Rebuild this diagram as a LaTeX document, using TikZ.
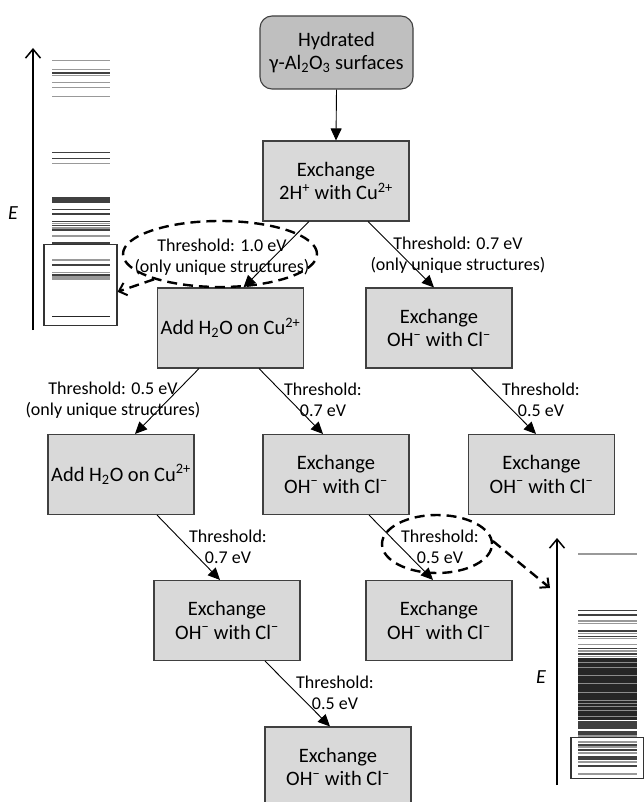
\documentclass[tikz,border=0pt]{standalone}
\usepackage{fontspec}
\setmainfont{Carlito}
\usetikzlibrary{arrows.meta,shapes.geometric,calc}
\definecolor{boxgray}{HTML}{D9D9D9}
\definecolor{topgray}{HTML}{BFBFBF}
\definecolor{edgegray}{HTML}{404040}
\newcommand{\mns}{\textsuperscript{\char"2212}}
\begin{document}
\begin{tikzpicture}[x=1pt,y=-1pt,
  stepbox/.style={draw=edgegray,line width=1.1pt,fill=boxgray,minimum width=146pt,minimum height=80pt,inner sep=0pt,align=center,font=\fontsize{20.5}{23.5}\selectfont},
  topbox/.style={stepbox,fill=topgray,rounded corners=12pt,minimum width=153pt,minimum height=73pt},
  lbl/.style={align=center,inner sep=0pt,font=\fontsize{18}{20.5}\selectfont},
  flow/.style={line width=0.9pt,-{Triangle[length=12pt,width=11pt]}},
  halo/.style={ellipse,draw,line width=2.4pt,dash pattern=on 10pt off 6pt,inner sep=0pt},
  jump/.style={line width=2.4pt,dash pattern=on 10pt off 6pt,-{Straight Barb[length=7pt,width=13pt,line width=2pt]}},
  axis/.style={line width=1.3pt,-{Straight Barb[length=9pt,width=15pt,line width=1.5pt]}},
  lvd/.style={line width=1.1pt,black!75},
  lvg/.style={line width=1.1pt,black!40},
  elabel/.style={inner sep=0pt,font=\fontsize{20}{24}\selectfont\itshape}
]
\useasboundingbox (0,0) rectangle (644,802);

% flow nodes
\node[topbox]   (hyd)  at (336.5,52.5) {Hydrated\\γ-Al\textsubscript{2}O\textsubscript{3} surfaces};
\node[stepbox]  (ex1)  at (336,181) {Exchange\\2H\textsuperscript{+} with Cu\textsuperscript{2+}};
\node[stepbox]  (add1) at (230.5,328) {Add H\textsubscript{2}O on Cu\textsuperscript{2+}};
\node[stepbox]  (exR)  at (439,328) {Exchange\\OH\mns{} with Cl\mns};
\node[stepbox]  (add2) at (121,474.5) {Add H\textsubscript{2}O on Cu\textsuperscript{2+}};
\node[stepbox]  (exM)  at (336,474.5) {Exchange\\OH\mns{} with Cl\mns};
\node[stepbox]  (exR2) at (541.5,474.5) {Exchange\\OH\mns{} with Cl\mns};
\node[stepbox]  (exL4) at (227,620.5) {Exchange\\OH\mns{} with Cl\mns};
\node[stepbox]  (exM4) at (439,620.5) {Exchange\\OH\mns{} with Cl\mns};
\node[stepbox]  (ex5)  at (338,767) {Exchange\\OH\mns{} with Cl\mns};

% connectors
\draw[flow] (hyd.south) -- (ex1.north);
\draw[flow] ([xshift=-27pt]ex1.south) -- ([xshift=13pt]add1.north);
\draw[flow] ([xshift=32pt]ex1.south) -- ([xshift=-5pt]exR.north);
\draw[flow] ([xshift=-31.5pt]add1.south) -- ([xshift=14pt]add2.north);
\draw[flow] ([xshift=28.5pt]add1.south) -- ([xshift=-13pt]exM.north);
\draw[flow] ([xshift=32pt]exR.south) -- ([xshift=-5.5pt]exR2.north);
\draw[flow] ([xshift=36pt]add2.south) -- ([xshift=-7pt]exL4.north);
\draw[flow] ([xshift=33pt]exM.south) -- ([xshift=-6pt]exM4.north);
\draw[flow] ([xshift=38pt]exL4.south) -- ([xshift=-8pt]ex5.north);

% labels
\node[lbl] (t1) at (222,257) {Threshold: 1.0 eV\\(only unique structures)};
\node[lbl] (t2) at (458,255) {Threshold: 0.7 eV\\(only unique structures)};
\node[lbl] (t3) at (113,400) {Threshold: 0.5 eV\\(only unique structures)};
\node[lbl] (t4) at (323,400) {Threshold:\\0.7 eV};
\node[lbl] (t5) at (541,400) {Threshold:\\0.5 eV};
\node[lbl] (t6) at (228,547) {Threshold:\\0.7 eV};
\node[lbl] (t7) at (440,547) {Threshold:\\0.5 eV};
\node[lbl] (t8) at (335,693) {Threshold:\\0.5 eV};

% dashed highlights
\node[halo,minimum width=194pt,minimum height=66pt] (h1) at (220,254) {};
\node[halo,minimum width=110pt,minimum height=58pt] (h2) at (437,544) {};

% left energy diagram
\draw[axis] (33,330) -- (33,48);
\node[elabel] (E1) at (13,213) {E};
\foreach \y in {73,152.3,158.3,197.5,199,200.5,202,209.5,214,221.5,225.5,230,243,265,275}
  \draw[lvd] (52,\y) -- (110,\y);
\foreach \y in {60.7,69.3,75.7,82.3,87.7,96.7,163.7,223.5,228,236,260,272.3,277,279}
  \draw[lvg] (52,\y) -- (110,\y);
\draw[line width=1.6pt,black!85] (52,316.3) -- (110,316.3);
\node[draw=black!80,line width=1.1pt,minimum width=73pt,minimum height=81.5pt,inner sep=0pt] (lbox) at (80.5,284.8) {};

% right energy diagram
\draw[axis] (557,785) -- (557,538);
\node[elabel] (E2) at (541,677) {E};
\fill[black!85] (578,658) rectangle (637,720);
\foreach \y in {662,667,675,683,692,700,703,706,710,716}
  \draw[line width=0.8pt,black!45] (578,\y) -- (637,\y);
\foreach \y in {610.3,615,631,636.3,648.7,654,722,724,726,728,732,734,745,750,757,759,766}
  \draw[lvd] (578,\y) -- (637,\y);
\foreach \y in {554,621,623.3,633.3,638.7,644.3,651,656.7,736,742,747,753,762,774}
  \draw[lvg] (578,\y) -- (637,\y);
\node[draw=black!80,line width=1.1pt,minimum width=73pt,minimum height=41pt,inner sep=0pt] (rbox) at (607.5,758.4) {};

% dashed jumps
\coordinate (j2) at (550,588);
\draw[jump] (h1.201) -- ([yshift=-7pt]lbox.east);
\draw[jump] (h2.3) -- (j2);
\end{tikzpicture}
\end{document}
